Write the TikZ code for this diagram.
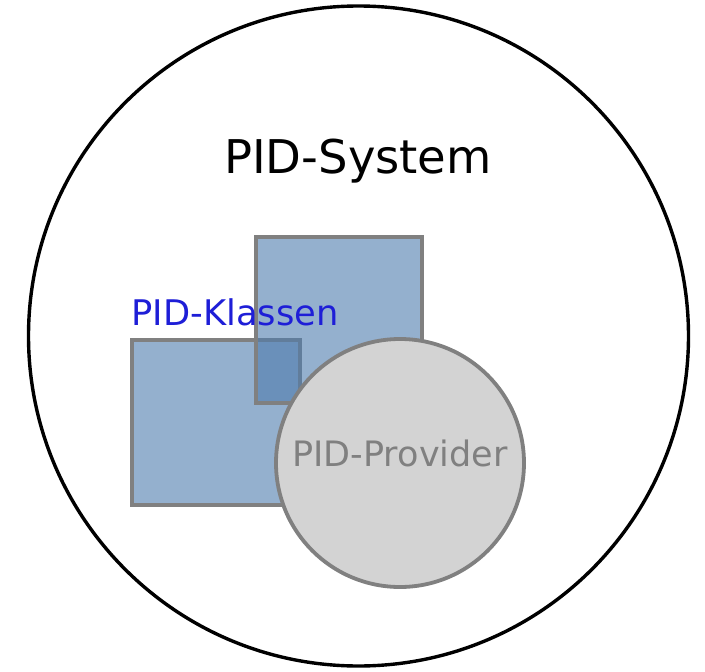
\documentclass[tikz,border=0pt]{standalone}
\usepackage{fontspec}
\setmainfont{DejaVu Sans}
\usepackage{xcolor}
\usepackage{tikz}
\usetikzlibrary{positioning}
\definecolor{corazul}{RGB}{77,123,173}
\definecolor{corborda}{RGB}{128,128,128}
\definecolor{corprov}{RGB}{211,211,211}
\definecolor{cortexto}{RGB}{30,30,215}

\begin{document}
\begin{tikzpicture}[
  x=1pt, y=-1pt,
  sistema/.style={circle, draw=black, line width=3.4pt, minimum size=660pt, inner sep=0pt},
  classe/.style={rectangle, draw=corborda, line width=3.8pt, fill=corazul, fill opacity=0.6,
                 draw opacity=1, inner sep=0pt},
  provedor/.style={circle, draw=corborda, line width=3.8pt, fill=corprov, minimum size=248pt, inner sep=0pt},
  rotulo/.style={inner sep=0pt, anchor=center}
]
  \useasboundingbox (0,0) rectangle (705,672);
  \node[sistema] (sys) at (358.5,336) {};
  \node[rotulo, font=\fontsize{46.5}{52}\selectfont] (systxt) at (358,161) {PID-System};

  \node[classe, minimum width=168pt, minimum height=165pt] (klasseA) at (216,422.5) {};
  \node[classe, minimum width=166pt, minimum height=166pt] (klasseB) at (339,320) {};
  \node[rotulo, font=\fontsize{35.3}{40}\selectfont, text=cortexto] (klassetxt) at (235,312) {PID-Klassen};

  \node[provedor] (prov) at (400,463) {};
  \node[rotulo, font=\fontsize{35}{40}\selectfont, text=corborda] (provtxt) at (400,453) {PID-Provider};
\end{tikzpicture}
\end{document}
